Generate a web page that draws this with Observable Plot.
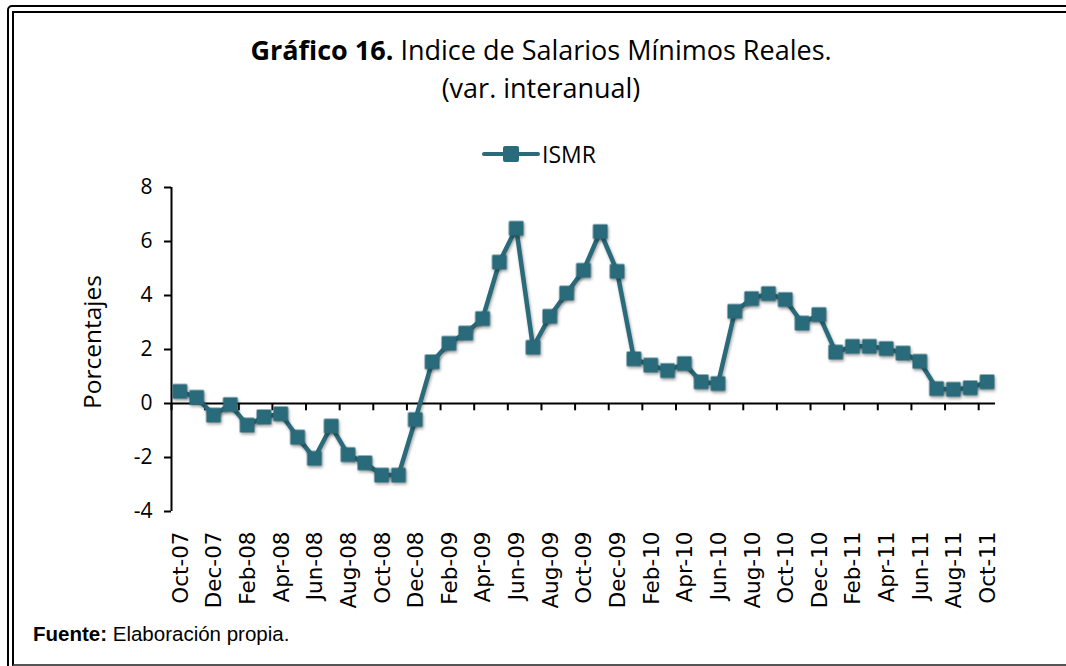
<!DOCTYPE html>
<html>
<head>
<meta charset="utf-8">
<script src="https://cdn.jsdelivr.net/npm/d3@7"></script>
<script src="https://cdn.jsdelivr.net/npm/@observablehq/plot@0.6"></script>
<style>
  html, body { margin: 0; padding: 0; background: #fff; }
  #page { position: relative; width: 1066px; height: 666px; overflow: hidden; background: #fff; }
  #outer { position: absolute; left: 7px; top: 5px; width: 1120px; height: 720px; border: 2px solid #000; border-radius: 5px; }
  #inner { position: absolute; left: 12px; top: 11px; width: 1120px; height: 651px; border: 2px solid #000; border-bottom-color: #555; }
  #chart { position: absolute; left: 0; top: 0; }
  #title { position: absolute; left: 0; width: 1082px; top: 31px; text-align: center; font-family: "Open Sans", sans-serif; font-size: 27px; line-height: 38px; color: #000; }
  #legend { position: absolute; left: 482px; top: 140px; height: 28px; font-family: "Open Sans", sans-serif; font-size: 23px; color: #000; display: flex; align-items: center; }
  #ylabel { position: absolute; left: 91px; top: 342px; transform: translate(-50%, -50%) rotate(-90deg); font-family: "Open Sans", sans-serif; font-size: 24.5px; white-space: nowrap; color: #000; }
  #footer { position: absolute; left: 33px; top: 622px; font-family: "Liberation Sans", Arial, sans-serif; font-size: 20.5px; color: #000; }
</style>
</head>
<body>
<div id="page">
  <div id="outer"></div>
  <div id="inner"></div>
  <div id="chart"></div>
  <div id="title"><b>Gráfico 16.</b> Indice de Salarios Mínimos Reales.<br>(var. interanual)</div>
  <div id="legend"><svg width="58" height="20" style="margin-right:2px"><line x1="2" y1="10" x2="56" y2="10" stroke="#2A6B7B" stroke-width="4" stroke-linecap="round"/><rect x="21" y="2" width="16" height="16" rx="2" fill="#2A6B7B"/></svg><span>ISMR</span></div>
  <div id="ylabel">Porcentajes</div>
  <div id="footer"><b>Fuente:</b> Elaboración propia.</div>
</div>
<script>
const months = [
  "Oct-07","Nov-07","Dec-07","Jan-08","Feb-08","Mar-08","Apr-08","May-08","Jun-08","Jul-08","Aug-08","Sep-08",
  "Oct-08","Nov-08","Dec-08","Jan-09","Feb-09","Mar-09","Apr-09","May-09","Jun-09","Jul-09","Aug-09","Sep-09",
  "Oct-09","Nov-09","Dec-09","Jan-10","Feb-10","Mar-10","Apr-10","May-10","Jun-10","Jul-10","Aug-10","Sep-10",
  "Oct-10","Nov-10","Dec-10","Jan-11","Feb-11","Mar-11","Apr-11","May-11","Jun-11","Jul-11","Aug-11","Sep-11",
  "Oct-11"
];
const ismr = [
  0.45, 0.23, -0.43, -0.04, -0.80, -0.50, -0.38, -1.25, -2.03, -0.84, -1.89, -2.20,
  -2.65, -2.65, -0.60, 1.54, 2.23, 2.61, 3.14, 5.24, 6.49, 2.08, 3.23, 4.09,
  4.93, 6.37, 4.89, 1.65, 1.42, 1.22, 1.48, 0.80, 0.74, 3.41, 3.88, 4.07,
  3.85, 2.98, 3.29, 1.90, 2.12, 2.12, 2.03, 1.87, 1.56, 0.55, 0.52, 0.58,
  0.80
];
const xTickLabels = [
  "Oct-07","Dec-07","Feb-08","Apr-08","Jun-08","Aug-08","Oct-08","Dec-08","Feb-09","Apr-09",
  "Jun-09","Aug-09","Oct-09","Dec-09","Feb-10","Apr-10","Jun-10","Aug-10","Oct-10","Dec-10",
  "Feb-11","Apr-11","Jun-11","Aug-11","Oct-11"
];
const yTicks = [-4, -2, 0, 2, 4, 6, 8];

const data = months.map((m, i) => ({month: m, value: ismr[i]}));
const color = "#2A6B7B";
const W = 1066, H = 666;
const mL = 171, mR = 71, mT = 187, mB = 155;
const step = (W - mL - mR) / months.length;

const chart = Plot.plot({
  width: W,
  height: H,
  marginLeft: mL,
  marginRight: mR,
  marginTop: mT,
  marginBottom: mB,
  style: {fontFamily: "Open Sans", background: "transparent", overflow: "visible"},
  x: {type: "point", domain: months, padding: 0.5, align: 0.5, axis: null},
  y: {domain: [-4, 8], axis: null},
  marks: [
    Plot.axisY({ticks: yTicks, tickSize: 7, tickPadding: 12, strokeWidth: 2, fontSize: 21, fontFamily: "Open Sans", label: null, tickFormat: d => String(d), color: "#000"}),
    Plot.ruleX([months[0]], {x: d => d, y1: () => -4, y2: () => 8, dx: -step / 2, stroke: "#000", strokeWidth: 2}),
    Plot.ruleY([0], {stroke: "#000", strokeWidth: 2}),
    Plot.ruleX(xTickLabels, {x: d => d, y1: () => 0, y2: () => -0.27, dx: -step / 2, stroke: "#000", strokeWidth: 2}),
    Plot.text(xTickLabels, {x: d => d, y: () => -4, text: d => d, dy: 20, dx: 1, rotate: -90, textAnchor: "end", lineAnchor: "middle", fontFamily: "DejaVu Sans", fontSize: 21.5, fill: "#000"}),
    Plot.line(data, {x: "month", y: "value", stroke: color, strokeWidth: 4.5, strokeLinejoin: "round"}),
    Plot.dot(data, {x: "month", y: "value", symbol: "square", r: 7.2, fill: color, stroke: color, strokeWidth: 2, strokeLinejoin: "round"})
  ]
});
document.getElementById("chart").appendChild(chart);
d3.select(chart).selectAll('g[aria-label="line"], g[aria-label="dot"]').style("filter", "drop-shadow(1px 2px 1.5px rgba(0,0,0,0.35))");
</script>
</body>
</html>
